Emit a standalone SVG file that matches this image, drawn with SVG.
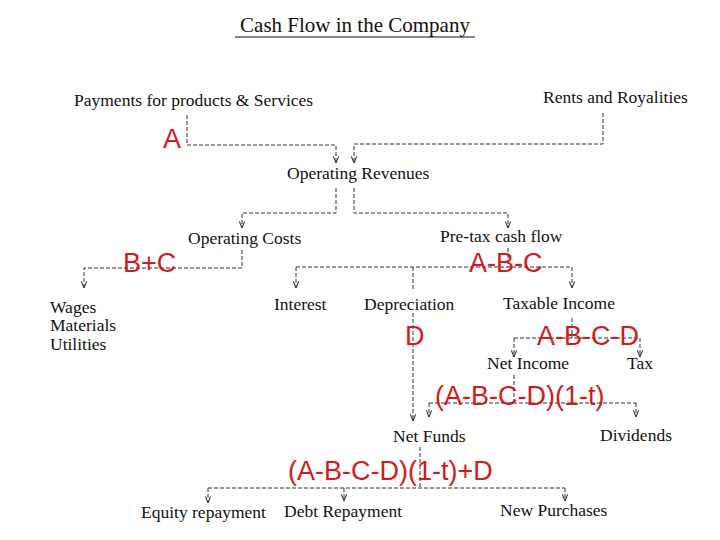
<svg xmlns="http://www.w3.org/2000/svg" width="720" height="540" viewBox="0 0 720 540">
<style>
.t{font-family:"Liberation Serif",serif;font-size:17.5px;fill:#111}
.r{font-family:"Liberation Sans",sans-serif;font-size:27px;fill:#d41a1a}
.c{fill:none;stroke:#333;stroke-width:1;stroke-dasharray:4 2}
</style>
<defs><marker id="v" markerWidth="8" markerHeight="8" refX="6" refY="3" orient="auto" markerUnits="userSpaceOnUse" viewBox="0 0 6 6"><path d="M1,1 L6,3 L1,5" fill="none" stroke="#333" stroke-width="0.8"/></marker></defs>
<rect width="720" height="540" fill="#fff"/>
<g id="title"><text x="355" y="32" text-anchor="middle" class="t" style="font-size:21px">Cash Flow in the Company</text><line x1="235" y1="37" x2="475" y2="37" stroke="#111"/></g>
<g id="connectors">
<path class="c" d="M187,115 V145 H336 V163" marker-end="url(#v)"/>
<path class="c" d="M603,113 V144 H354 V163" marker-end="url(#v)"/>
<path class="c" d="M336,188 V213 H242 V228" marker-end="url(#v)"/>
<path class="c" d="M354,188 V213 H508 V228" marker-end="url(#v)"/>
<path class="c" d="M242,250 V268 H84 V288" marker-end="url(#v)"/>
<path class="c" d="M508,248 V267"/>
<path class="c" d="M296,267 H572"/>
<path class="c" d="M296,267 V288" marker-end="url(#v)"/>
<path class="c" d="M572,267 V288" marker-end="url(#v)"/>
<path class="c" d="M413,267 V290"/>
<path class="c" d="M413,313 V421" marker-end="url(#v)"/>
<path class="c" d="M572,318 V338"/>
<path class="c" d="M514,338 H640"/>
<path class="c" d="M514,338 V357" marker-end="url(#v)"/>
<path class="c" d="M640,338 V357" marker-end="url(#v)"/>
<path class="c" d="M514,375 V403"/>
<path class="c" d="M429,403 H636"/>
<path class="c" d="M429,403 V417" marker-end="url(#v)"/>
<path class="c" d="M636,403 V417" marker-end="url(#v)"/>
<path class="c" d="M420,447 V488"/>
<path class="c" d="M208,488 H565"/>
<path class="c" d="M208,488 V503" marker-end="url(#v)"/>
<path class="c" d="M344,488 V501" marker-end="url(#v)"/>
<path class="c" d="M565,488 V501" marker-end="url(#v)"/>
</g>
<g id="payments"><text x="74" y="106" class="t">Payments for products &amp; Services</text></g>
<g id="rents"><text x="543" y="103" class="t">Rents and Royalities</text></g>
<g id="oprev"><text x="287" y="179" class="t">Operating Revenues</text></g>
<g id="opcosts"><text x="188" y="244" class="t">Operating Costs</text></g>
<g id="pretax"><text x="440" y="242" class="t">Pre-tax cash flow</text></g>
<g id="wages"><text x="50" y="313" class="t">Wages</text><text x="50" y="331" class="t">Materials</text><text x="50" y="350" class="t">Utilities</text></g>
<g id="interest"><text x="274" y="310" class="t">Interest</text></g>
<g id="depreciation"><text x="364" y="310" class="t">Depreciation</text></g>
<g id="taxable"><text x="503" y="309" class="t">Taxable Income</text></g>
<g id="netincome"><text x="487" y="369" class="t">Net Income</text></g>
<g id="tax"><text x="627" y="369" class="t">Tax</text></g>
<g id="netfunds"><text x="393" y="442" class="t">Net Funds</text></g>
<g id="dividends"><text x="600" y="441" class="t">Dividends</text></g>
<g id="equity"><text x="141" y="518" class="t">Equity repayment</text></g>
<g id="debt"><text x="284" y="517" class="t">Debt Repayment</text></g>
<g id="newp"><text x="500" y="516" class="t">New Purchases</text></g>
<g id="labels">
<text x="163" y="148" class="r">A</text>
<text x="123" y="272" class="r">B+C</text>
<text x="469" y="272" class="r">A-B-C</text>
<text x="405" y="345" class="r">D</text>
<text x="537" y="345" class="r">A-B-C-D</text>
<text x="435" y="405" class="r">(A-B-C-D)(1-t)</text>
<text x="288" y="480" class="r">(A-B-C-D)(1-t)+D</text>
</g>
</svg>
